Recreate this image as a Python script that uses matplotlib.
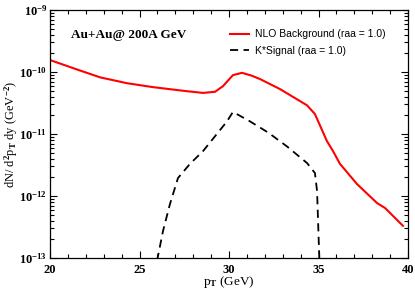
import numpy as np
import matplotlib
matplotlib.use("Agg")
import matplotlib.pyplot as plt
from matplotlib.ticker import LogLocator, MultipleLocator, FuncFormatter, NullFormatter

# NLO background (red)
bg_pt = [20.0, 21.5, 22.8, 24.3, 25.75, 27.65, 28.55, 29.22, 29.66, 30.22, 30.73, 31.28, 31.73,
         32.85, 34.36, 34.80, 35.47, 35.81, 36.2, 37.15, 38.27, 38.72, 39.72]
bg_val = [1.56e-10, 1.1e-10, 8.2e-11, 6.6e-11, 5.7e-11, 4.9e-11, 4.6e-11, 4.8e-11, 5.9e-11,
          8.9e-11, 9.7e-11, 8.7e-11, 7.7e-11, 5.3e-11, 2.9e-11, 2.1e-11, 7.7e-12, 5.3e-12,
          3.3e-12, 1.56e-12, 7.7e-13, 6.4e-13, 3.3e-13]

# K* signal (black dashed)
sig_pt = [25.98, 26.31, 26.70, 27.15, 27.82, 28.55, 29.89, 30.22, 31.17, 32.2, 33.24,
          34.36, 34.80, 34.92, 35.05]
sig_val = [9e-14, 2.7e-13, 7.4e-13, 1.95e-12, 3.3e-12, 5.3e-12, 1.6e-11, 2.27e-11, 1.6e-11,
           1.05e-11, 6.3e-12, 3.4e-12, 2.35e-12, 1.2e-12, 9e-14]

plt.rcParams["font.family"] = "Liberation Serif"
plt.rcParams["font.weight"] = "bold"
plt.rcParams["mathtext.fontset"] = "custom"
plt.rcParams["mathtext.rm"] = "Liberation Serif:bold"
plt.rcParams["mathtext.bf"] = "Liberation Serif:bold"
plt.rcParams["mathtext.default"] = "bf"

fig = plt.figure(figsize=(4.15, 2.89), dpi=100)
ax = fig.add_axes([50/415, 1-258/289, 358/415, 248/289])

ax.plot(bg_pt, bg_val, color="red", lw=1.5, label="NLO Background (raa = 1.0)")
ax.plot(sig_pt, sig_val, color="black", lw=1.3, ls=(0, (4.5, 3)), label="K*Signal (raa = 1.0)")

ax.set_yscale("log")
ax.set_xlim(20, 40)
ax.set_ylim(1e-13, 1e-9)
ax.xaxis.set_major_locator(MultipleLocator(5))
ax.xaxis.set_minor_locator(MultipleLocator(1))
ax.yaxis.set_major_locator(LogLocator(base=10, numticks=10))
ax.yaxis.set_minor_locator(LogLocator(base=10, subs=np.arange(2, 10), numticks=20))
ax.yaxis.set_minor_formatter(NullFormatter())
ax.yaxis.set_major_formatter(FuncFormatter(lambda v, p: r"$10^{%d}$" % round(np.log10(v))))
ax.tick_params(which="both", direction="in", top=True, right=True, labelsize=9, width=0.8)
ax.tick_params(which="major", length=5)
ax.tick_params(axis="x", which="major", pad=4)
ax.tick_params(axis="y", which="major", pad=2)
ax.tick_params(which="minor", length=3)
for s in ax.spines.values():
    s.set_linewidth(0.9)

ax.set_xlabel(r"p$_T$ (GeV)", fontsize=9.5, labelpad=-1)
ax.set_ylabel(r"dN/ d$^2$p$_T$ dy (GeV$^{-2}$)", fontsize=9)
ax.yaxis.set_label_coords(-0.083, 0.5)

ax.text(0.06, 0.90, "Au+Au@ 200A GeV", transform=ax.transAxes, fontsize=9.5, va="center")

leg = ax.legend(loc="upper right", bbox_to_anchor=(0.965, 0.96), frameon=False,
                prop={"family": "Liberation Sans", "weight": "normal", "size": 7.5},
                handlelength=1.8, handletextpad=0.6, labelspacing=0.65)

fig.savefig("out.png", dpi=100)
